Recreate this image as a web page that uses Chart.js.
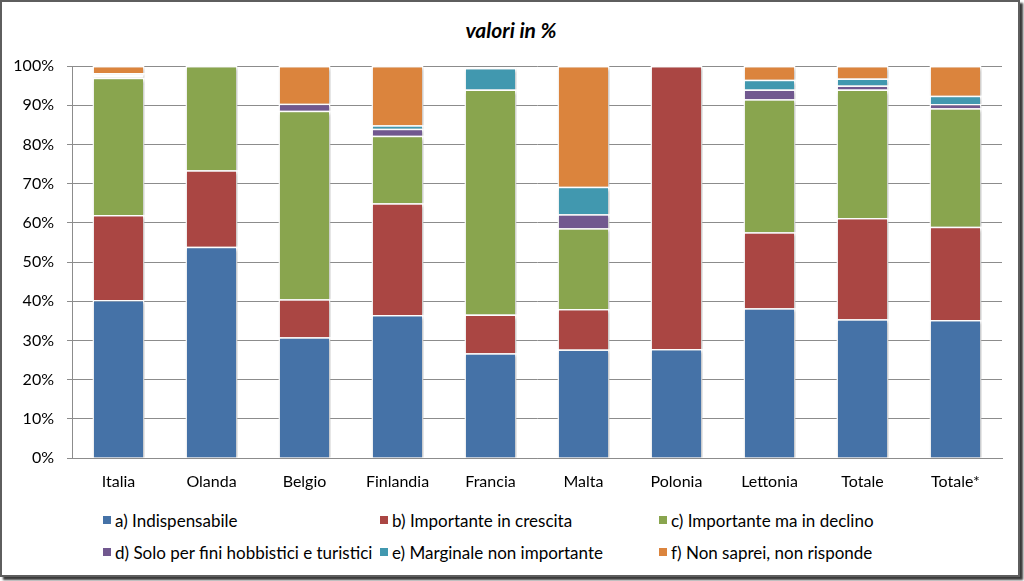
<!DOCTYPE html>
<html>
<head>
<meta charset="utf-8">
<script src="https://cdn.jsdelivr.net/npm/chart.js@4"></script>
<style>
  html, body { margin: 0; padding: 0; background: #fff; }
  body { width: 1024px; height: 581px; position: relative; overflow: hidden; font-family: Lato, "Open Sans", sans-serif; }
  #frame { position: absolute; left: 0; top: 0; width: 1016px; height: 573px; border: 2px solid #5e5e5e; box-shadow: 3px 3px 2px #3a3a3a; }
  #wrap { position: absolute; left: 0; top: 0; width: 1024px; height: 500px; }
  #title { position: absolute; left: 0; width: 1022px; top: 17px; text-align: center; font: italic bold 21px Lato, sans-serif; color: #000; }
  #legend { position: absolute; left: 103px; top: 510px; display: grid; grid-template-columns: 277px 279px 278px; row-gap: 12px; font-size: 17px; color: #000; }
  .item { display: flex; align-items: center; height: 20px; white-space: nowrap; }
  .box { width: 8px; height: 8px; margin-right: 4px; }
</style>
</head>
<body>
<div id="frame"></div>
<div id="title">valori in %</div>
<div id="wrap"><canvas id="chart" width="1024" height="500"></canvas></div>
<div id="legend"></div>
<script>
const countries = ["Italia", "Olanda", "Belgio", "Finlandia", "Francia", "Malta", "Polonia", "Lettonia", "Totale", "Totale*"];

const indispensabile = [40.3, 53.9, 30.8, 36.5, 26.7, 27.7, 27.8, 38.2, 35.4, 35.2];
const in_crescita    = [21.7, 19.5, 9.7, 28.5, 9.9, 10.3, 72.2, 19.4, 25.8, 23.8];
const in_declino     = [35.0, 26.6, 48.1, 17.2, 57.4, 20.6, 0, 33.9, 32.8, 30.2];
const hobbistici     = [0, 0, 1.8, 1.8, 0, 3.6, 0, 2.5, 1.0, 1.1];
const marginale      = [1.2, 0, 0, 0.9, 5.5, 7.0, 0, 2.5, 1.8, 2.1];
const non_saprei     = [1.8, 0, 9.6, 15.1, 0, 30.8, 0, 3.5, 3.2, 7.6];

const series_names = [
  "a) Indispensabile",
  "b) Importante in crescita",
  "c) Importante ma in declino",
  "d) Solo per fini hobbistici e turistici",
  "e) Marginale non importante",
  "f) Non saprei, non risponde"
];
const series_colors = ["#4572A7", "#AA4643", "#89A54E", "#71588F", "#4198AF", "#DB843D"];

const all_values = [indispensabile, in_crescita, in_declino, hobbistici, marginale, non_saprei];

let datasets = [];
all_values.forEach((vals, i) => {
  let bg = series_colors[i];
  // Italia shows an empty (white) slice in place of e)
  if (i === 4) {
    bg = countries.map(c => c === "Italia" ? "#ffffff" : series_colors[i]);
  }
  datasets.push({
    label: series_names[i],
    data: vals,
    backgroundColor: bg,
    borderColor: "#ffffff",
    borderWidth: 1.5,
    categoryPercentage: 1,
    barPercentage: 0.56
  });
});

const barShadow = {
  id: "barShadow",
  beforeDatasetsDraw(chart) {
    const ctx = chart.ctx;
    ctx.save();
    ctx.shadowColor = "rgba(0,0,0,0.22)";
    ctx.shadowBlur = 3;
    ctx.shadowOffsetX = 1.5;
    ctx.shadowOffsetY = 1.5;
  },
  afterDatasetsDraw(chart) {
    chart.ctx.restore();
  }
};

const ctx = document.getElementById("chart");
const chart = new Chart(ctx, {
  type: "bar",
  data: { labels: countries, datasets: datasets },
  plugins: [barShadow],
  options: {
    responsive: false,
    animation: false,
    layout: { padding: { left: 8, right: 22, top: 66, bottom: 0 } },
    plugins: {
      legend: { display: false },
      tooltip: { enabled: false },
      title: { display: false }
    },
    scales: {
      x: {
        stacked: true,
        grid: { display: false, drawTicks: false },
        border: { display: true, color: "#8c8c8c", width: 1 },
        ticks: { color: "#000", font: { family: "Lato", size: 16 }, padding: 14 },
        afterFit: s => { s.height = 42; }
      },
      y: {
        stacked: true,
        min: 0,
        max: 100,
        grid: { color: "#8c8c8c", tickLength: 5, drawTicks: true },
        border: { display: true, color: "#8c8c8c", width: 1 },
        ticks: {
          stepSize: 10,
          color: "#000",
          font: { family: "Lato", size: 16 },
          padding: 13,
          callback: v => v + "%"
        },
        afterFit: s => { s.width = 64; }
      }
    }
  }
});

const legend = document.getElementById("legend");
series_names.forEach((name, i) => {
  const item = document.createElement("div");
  item.className = "item";
  const box = document.createElement("span");
  box.className = "box";
  box.style.background = series_colors[i];
  const txt = document.createElement("span");
  txt.textContent = name;
  item.appendChild(box);
  item.appendChild(txt);
  legend.appendChild(item);
});
</script>
</body>
</html>
